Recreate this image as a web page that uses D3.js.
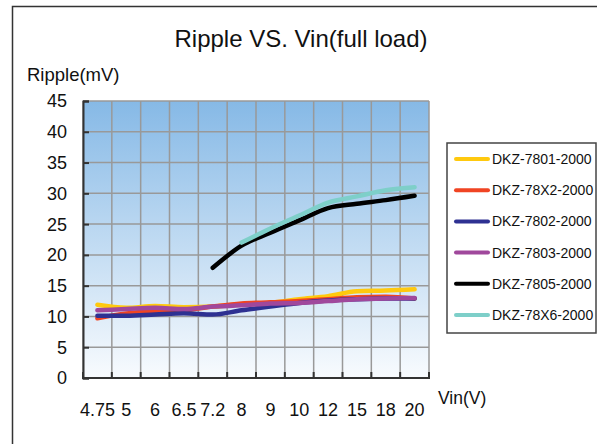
<!DOCTYPE html>
<html>
<head>
<meta charset="utf-8">
<script src="https://cdn.jsdelivr.net/npm/d3@7"></script>
<style>
  body { margin: 0; background: #fff; }
  text { font-family: "Liberation Sans", Arial, sans-serif; fill: #111; }
</style>
</head>
<body>
<div id="chart-holder"></div>
<script>
// categories on the x axis (Vin)
var vin = ["4.75", "5", "6", "6.5", "7.2", "8", "9", "10", "12", "15", "18", "20"];
var yTicks = [0, 5, 10, 15, 20, 25, 30, 35, 40, 45];

// series values, mV (null = no reading)
var names = ["DKZ-7801-2000", "DKZ-78X2-2000", "DKZ-7802-2000", "DKZ-7803-2000", "DKZ-7805-2000", "DKZ-78X6-2000"];
var colors = ["#ffc90e", "#f04423", "#2e3192", "#a0489c", "#000000", "#7ecfc9"];
var dkz7801 = [11.9, 11.4, 11.7, 11.5, 11.6, 12.0, 12.2, 12.8, 13.3, 14.1, 14.2, 14.4];
var dkz78x2 = [9.7, 10.5, 10.9, 11.0, 11.6, 12.1, 12.3, 12.5, 12.8, 13.1, 13.2, 12.9];
var dkz7802 = [10.1, 10.1, 10.3, 10.5, 10.3, 11.0, 11.6, 12.2, 12.6, 12.8, 12.9, 12.9];
var dkz7803 = [11.0, 11.2, 11.4, 11.2, 11.6, 11.8, 12.1, 12.2, 12.5, 12.8, 12.9, 13.0];
var dkz7805 = [null, null, null, null, 17.9, 21.5, 23.6, 25.6, 27.6, 28.3, 28.9, 29.6];
var dkz78x6 = [null, null, null, null, null, 22.0, 24.3, 26.4, 28.5, 29.5, 30.5, 31.0];
var seriesValues = [dkz7801, dkz78x2, dkz7802, dkz7803, dkz7805, dkz78x6];

var W = 597, H = 444;
var plotLeft = 83, plotRight = 429, plotTop = 101, plotBottom = 378;

var svg = d3.select("#chart-holder")
  .append("svg")
  .attr("width", W)
  .attr("height", H);

// gradient for the plot area
var grad = svg.append("defs").append("linearGradient")
  .attr("id", "bg")
  .attr("x1", 0).attr("y1", 0).attr("x2", 0).attr("y2", 1);
grad.append("stop").attr("offset", "0%").attr("stop-color", "#86b9e6");
grad.append("stop").attr("offset", "100%").attr("stop-color", "#f8fbfe");

// outer chart border
svg.append("rect")
  .attr("x", 12.5).attr("y", 6.5)
  .attr("width", 620).attr("height", 460)
  .attr("fill", "#fff")
  .attr("stroke", "#333")
  .attr("stroke-width", 1.5);

var xBand = d3.scaleBand().domain(vin).range([plotLeft, plotRight]);
var x = d3.scalePoint().domain(vin).range([plotLeft, plotRight]).padding(0.5);
var y = d3.scaleLinear().domain([0, 45]).range([plotBottom, plotTop]);

svg.append("rect")
  .attr("x", plotLeft).attr("y", plotTop)
  .attr("width", plotRight - plotLeft).attr("height", plotBottom - plotTop)
  .attr("fill", "url(#bg)");

// grid
var grid = svg.append("g").attr("stroke", "#999").attr("stroke-width", 1.5);
var bounds = vin.map(function(d) { return xBand(d); }).concat([plotRight]);
grid.selectAll("line.v")
  .data(bounds)
  .enter()
  .append("line")
  .attr("x1", function(d) { return d; })
  .attr("x2", function(d) { return d; })
  .attr("y1", plotTop).attr("y2", plotBottom);
grid.selectAll("line.h")
  .data(yTicks)
  .enter()
  .append("line")
  .attr("x1", plotLeft).attr("x2", plotRight)
  .attr("y1", function(d) { return y(d); })
  .attr("y2", function(d) { return y(d); });

// axes, ticks pointing into the plot
var yAxis = svg.append("g")
  .attr("transform", "translate(" + plotLeft + ",0)")
  .call(d3.axisRight(y).tickValues(yTicks).tickSize(6).tickFormat(""));
var xAxis = svg.append("g")
  .attr("transform", "translate(0," + plotBottom + ")")
  .call(d3.axisTop(xBand).tickSize(6).tickFormat("").offset(0));
xAxis.selectAll(".tick line").attr("transform", "translate(" + (-xBand.bandwidth() / 2) + ",0)");
[yAxis, xAxis].forEach(function(a) {
  a.selectAll("path, line").attr("stroke", "#333").attr("stroke-width", 2);
});

// tick labels
svg.selectAll("text.ylab")
  .data(yTicks)
  .enter()
  .append("text")
  .attr("class", "ylab")
  .attr("x", 67)
  .attr("y", function(d) { return y(d); })
  .attr("dy", "0.36em")
  .attr("text-anchor", "end")
  .style("font-size", "18px")
  .text(function(d) { return d; });

svg.selectAll("text.xlab")
  .data(vin)
  .enter()
  .append("text")
  .attr("class", "xlab")
  .attr("x", function(d) { return x(d); })
  .attr("y", 416)
  .attr("text-anchor", "middle")
  .style("font-size", "18px")
  .text(function(d) { return d; });

// titles
svg.append("text")
  .attr("x", 301).attr("y", 47)
  .attr("text-anchor", "middle")
  .style("font-size", "24px")
  .text("Ripple VS. Vin(full load)");
svg.append("text")
  .attr("x", 27).attr("y", 81)
  .style("font-size", "18.5px")
  .text("Ripple(mV)");
svg.append("text")
  .attr("x", 438).attr("y", 404)
  .style("font-size", "17.5px")
  .text("Vin(V)");

// lines
var line = d3.line()
  .defined(function(d) { return d != null; })
  .x(function(d, i) { return x(vin[i]); })
  .y(function(d) { return y(d); })
  .curve(d3.curveMonotoneX);

svg.selectAll("path.series")
  .data(seriesValues)
  .enter()
  .append("path")
  .attr("class", "series")
  .attr("d", line)
  .attr("fill", "none")
  .attr("stroke", function(d, i) { return colors[i]; })
  .attr("stroke-width", 4.5)
  .attr("stroke-linejoin", "round")
  .attr("stroke-linecap", "round");

// legend
var legend = svg.append("g");
legend.append("rect")
  .attr("x", 447).attr("y", 143)
  .attr("width", 149).attr("height", 190)
  .attr("fill", "#fff")
  .attr("stroke", "#444")
  .attr("stroke-width", 1.5);
var rowY = function(d, i) { return 159 + i * 31.2; };
legend.selectAll("line")
  .data(names)
  .enter()
  .append("line")
  .attr("x1", 456).attr("x2", 488)
  .attr("y1", rowY).attr("y2", rowY)
  .attr("stroke", function(d, i) { return colors[i]; })
  .attr("stroke-width", 4)
  .attr("stroke-linecap", "round");
legend.selectAll("text")
  .data(names)
  .enter()
  .append("text")
  .attr("x", 492)
  .attr("y", rowY)
  .attr("dy", "0.36em")
  .style("font-size", "14px")
  .text(function(d) { return d; });
</script>
</body>
</html>
